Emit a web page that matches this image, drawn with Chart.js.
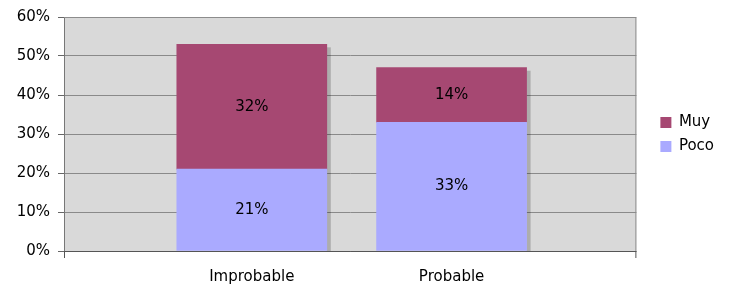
<!DOCTYPE html>
<html>
<head>
    <meta charset="utf-8">
    <title>Muy / Poco</title>
    <script src="https://cdn.jsdelivr.net/npm/chart.js@4.4.0/dist/chart.umd.min.js"></script>
    <style>
        html, body { margin: 0; padding: 0; background: #fff; }
        .chart-container { position: relative; width: 730px; height: 287px; }
    </style>
</head>
<body>
    <div class="chart-container">
        <canvas id="grafico"></canvas>
    </div>

    <script>
        // Datos
        const categorias = ['Improbable', 'Probable'];
        const poco = [21, 33];
        const muy = [32, 14];
        const ticksY = [0, 10, 20, 30, 40, 50, 60];

        const colorMuy = '#a64872';
        const colorPoco = '#aaaaff';
        const fuente = { family: 'DejaVu Sans', size: 15 };

        const puntos = vals => vals.map((v, i) => ({ x: i, y: v }));

        // Fondo gris del area y marco
        const fondo = {
            id: 'fondo',
            beforeDraw(chart) {
                const { ctx, chartArea: a } = chart;
                ctx.save();
                ctx.fillStyle = '#d9d9d9';
                ctx.fillRect(a.left, a.top, a.right - a.left, a.bottom - a.top);
                ctx.restore();
            },
            afterDraw(chart) {
                const { ctx, chartArea: a } = chart;
                ctx.save();
                ctx.lineWidth = 1;
                ctx.strokeStyle = '#8c8c8c';
                ctx.beginPath();
                ctx.moveTo(a.left, a.top + 0.5);
                ctx.lineTo(a.right - 0.5, a.top + 0.5);
                ctx.lineTo(a.right - 0.5, a.bottom);
                ctx.stroke();
                ctx.strokeStyle = '#555';
                ctx.beginPath();
                ctx.moveTo(a.left, a.bottom + 0.5);
                ctx.lineTo(a.right, a.bottom + 0.5);
                ctx.moveTo(a.left + 0.5, a.bottom);
                ctx.lineTo(a.left + 0.5, a.bottom + 7);
                ctx.moveTo(a.right - 0.5, a.bottom);
                ctx.lineTo(a.right - 0.5, a.bottom + 7);
                ctx.stroke();
                ctx.restore();
            },
            // la leyenda va mas a la derecha y mas arriba que lo que deja el layout
            afterLayout(chart) {
                chart.legend.left += 15;
                chart.legend.right += 15;
                chart.legend.top -= 12;
                chart.legend.bottom -= 12;
            }
        };

        // Sombra a la derecha de cada columna
        const sombra = {
            id: 'sombra',
            beforeDatasetsDraw(chart) {
                const { ctx } = chart;
                const n = chart.data.datasets.length;
                const arriba = chart.getDatasetMeta(n - 1).data;
                const base = chart.scales.y.getPixelForValue(0);
                ctx.save();
                ctx.fillStyle = 'rgba(0,0,0,0.2)';
                arriba.forEach(el => {
                    const p = el.getProps(['x', 'y', 'width'], true);
                    const x = p.x + p.width / 2;
                    ctx.fillRect(x, p.y + 3, 4, base - p.y - 3);
                });
                ctx.restore();
            }
        };

        // Etiquetas con el valor dentro de cada segmento
        const etiquetas = {
            id: 'etiquetas',
            afterDatasetsDraw(chart) {
                const { ctx } = chart;
                ctx.save();
                ctx.font = fuente.size + 'px ' + fuente.family;
                ctx.fillStyle = '#000';
                ctx.textAlign = 'center';
                ctx.textBaseline = 'middle';
                chart.data.datasets.forEach((ds, d) => {
                    chart.getDatasetMeta(d).data.forEach((el, i) => {
                        const p = el.getProps(['x', 'y', 'base'], true);
                        ctx.fillText(ds.data[i].y + '%', p.x, (p.y + p.base) / 2);
                    });
                });
                ctx.restore();
            }
        };

        const ctx = document.getElementById('grafico').getContext('2d');
        new Chart(ctx, {
            type: 'bar',
            data: {
                datasets: [
                    { label: 'Poco', data: puntos(poco), backgroundColor: colorPoco, barThickness: 150 },
                    { label: 'Muy', data: puntos(muy), backgroundColor: colorMuy, barThickness: 150 }
                ]
            },
            options: {
                responsive: true,
                maintainAspectRatio: false,
                animation: false,
                layout: { padding: { top: 8, right: 21, bottom: 2, left: 0 } },
                scales: {
                    x: {
                        type: 'linear',
                        stacked: true,
                        offset: false,
                        min: -0.94,
                        max: 1.925,
                        grid: { display: false },
                        border: { display: false },
                        afterBuildTicks: s => { s.ticks = categorias.map((c, i) => ({ value: i })); },
                        afterFit: s => { s.height = 34; },
                        ticks: {
                            font: fuente,
                            color: '#000',
                            padding: 9,
                            maxRotation: 0,
                            autoSkip: false,
                            callback: v => categorias[v]
                        }
                    },
                    y: {
                        stacked: true,
                        min: 0,
                        max: 60,
                        afterBuildTicks: s => { s.ticks = ticksY.map(v => ({ value: v })); },
                        afterFit: s => { s.width = 64; },
                        grid: { color: '#8a8a8a', tickLength: 6, tickColor: '#666' },
                        border: { color: '#777' },
                        ticks: {
                            font: fuente,
                            color: '#000',
                            padding: 8,
                            callback: v => v + '%'
                        }
                    }
                },
                plugins: {
                    tooltip: { enabled: false },
                    legend: {
                        position: 'right',
                        reverse: true,
                        labels: {
                            boxWidth: 11,
                            boxHeight: 11,
                            padding: 9,
                            color: '#000',
                            font: fuente
                        }
                    }
                }
            },
            plugins: [fondo, sombra, etiquetas]
        });
    </script>
</body>
</html>
